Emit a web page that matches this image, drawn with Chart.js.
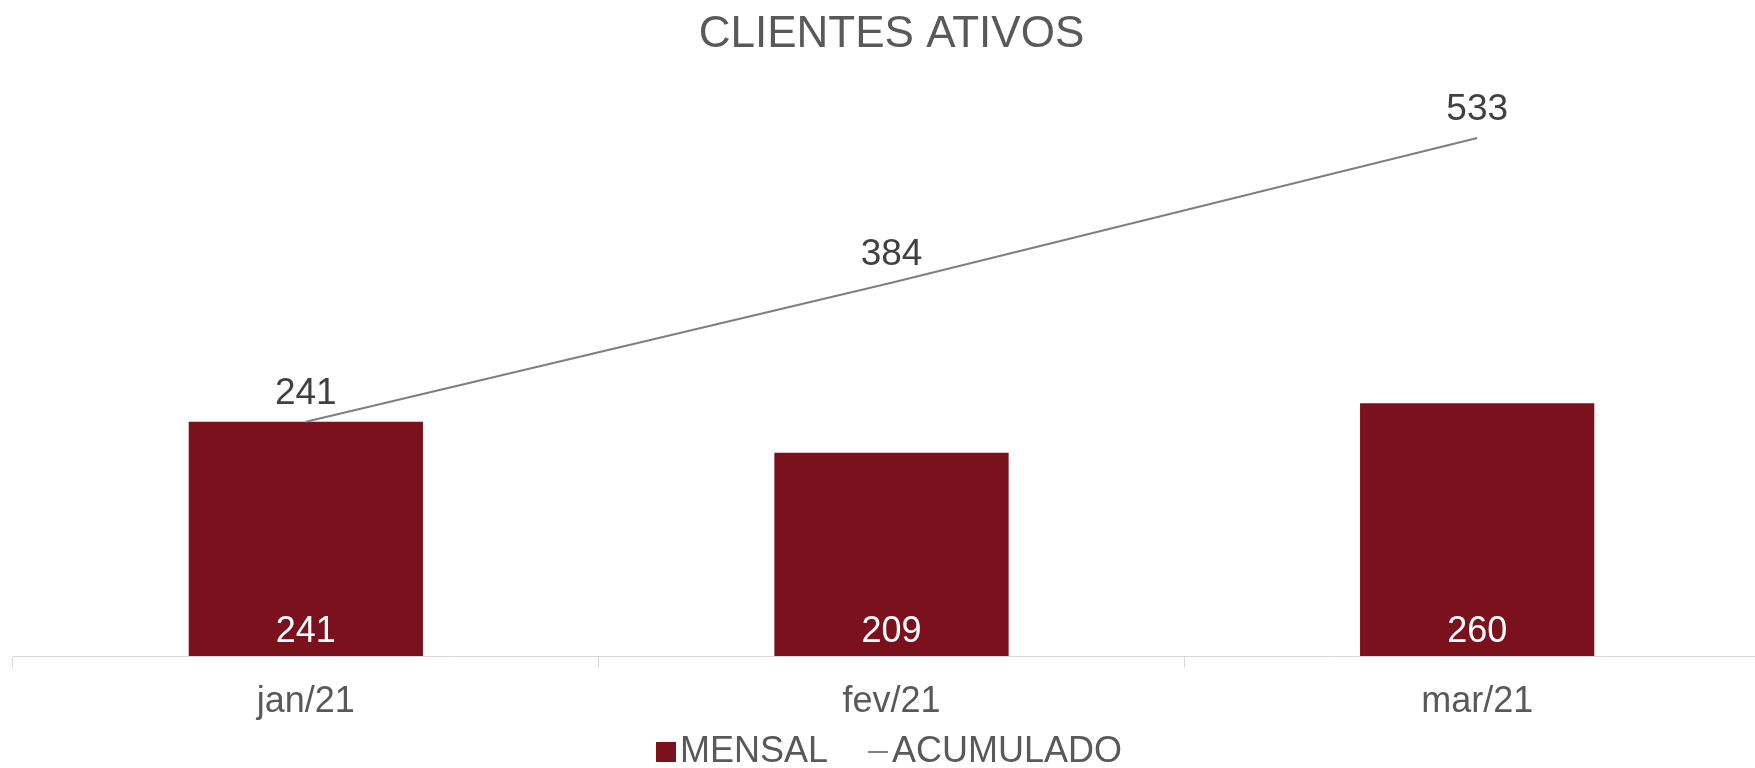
<!DOCTYPE html>
<html>
<head>
<meta charset="utf-8">
<script src="https://cdn.jsdelivr.net/npm/chart.js@4"></script>
<style>
  html, body { margin: 0; padding: 0; background: #fff; overflow: hidden; }
  /* o canvas passa um pouco da janela: a area do grafico vai ate a borda direita */
  #wrap { width: 1770px; height: 878px; }
</style>
</head>
<body>
<div id="wrap"><canvas id="grafico"></canvas></div>
<script>
// dados do grafico
const meses = ['jan/21', 'fev/21', 'mar/21'];
const mensal = [241, 209, 260];
const acumulado = [241, 384, 533];

const corBarra = '#7b111c';
const corLinha = '#7f7f7f';
const fonte = '"Liberation Sans", Arial, sans-serif';

// simbolos da legenda (quadrado e traco), encostados no texto
const simbolo = (h, cor) => {
  const c = document.createElement('canvas');
  c.width = 29;
  c.height = h;
  const g = c.getContext('2d');
  g.fillStyle = cor;
  g.fillRect(9, 0, 20, h);
  return c;
};
const simbolos = [simbolo(20, corBarra), simbolo(2, corLinha)];

// rotulos de valor (sem plugin externo)
const rotulos = {
  id: 'rotulos',
  afterDatasetsDraw(chart) {
    const ctx = chart.ctx;
    ctx.save();
    ctx.textAlign = 'center';
    ctx.textBaseline = 'middle';
    chart.data.datasets.forEach((ds, i) => {
      const meta = chart.getDatasetMeta(i);
      meta.data.forEach((el, j) => {
        if (ds.type === 'bar') {
          ctx.fillStyle = '#ffffff';
          ctx.font = '36px ' + fonte;
          ctx.fillText(ds.data[j], el.x, el.base - 24);
        } else {
          ctx.fillStyle = '#404040';
          ctx.font = '37px ' + fonte;
          ctx.fillText(ds.data[j], el.x, el.y - 28);
        }
      });
    });
    ctx.restore();
  }
};

// o padding da legenda separa os itens; sobe a legenda para perto dos meses
const subirLegenda = {
  id: 'subirLegenda',
  afterLayout(chart) {
    const lg = chart.legend;
    lg.top -= 47;
    lg.bottom -= 47;
  }
};

var canvas = document.getElementById('grafico');

var grafico = new Chart(canvas, {
  data: {
    labels: meses,
    datasets: [{
      type: 'bar',
      label: 'MENSAL',
      data: mensal,
      backgroundColor: corBarra,
      barPercentage: 0.4,
      categoryPercentage: 1,
      order: 1
    }, {
      type: 'line',
      label: 'ACUMULADO',
      data: acumulado,
      borderColor: corLinha,
      backgroundColor: corLinha,
      borderWidth: 2,
      pointRadius: 0,
      tension: 0,
      order: 0
    }]
  },
  options: {
    responsive: true,
    maintainAspectRatio: false,
    animation: false,
    layout: { padding: { left: 13, right: 0, top: 0, bottom: 51 } },
    scales: {
      x: {
        grid: { drawOnChartArea: false, color: '#d9d9d9', tickLength: 12 },
        border: { color: '#d9d9d9' },
        ticks: { color: '#595959', font: { family: fonte, size: 36 }, padding: 12.4 }
      },
      y: { display: false, min: 0, max: 600 }
    },
    plugins: {
      title: {
        display: true,
        text: 'CLIENTES ATIVOS',
        color: '#595959',
        font: { family: fonte, size: 44, weight: 'normal' },
        padding: { top: 8, bottom: 12 }
      },
      legend: {
        position: 'bottom',
        labels: {
          usePointStyle: true,
          pointStyleWidth: 1,
          boxHeight: 20,
          padding: 45,
          color: '#595959',
          font: { family: fonte, size: 36 },
          generateLabels: (chart) => {
            const itens = Chart.defaults.plugins.legend.labels.generateLabels(chart);
            itens.forEach(it => { it.pointStyle = simbolos[it.datasetIndex]; });
            return itens;
          },
          sort: (a, b) => a.datasetIndex - b.datasetIndex
        }
      },
      tooltip: { enabled: false }
    }
  },
  plugins: [rotulos, subirLegenda]
});
</script>
</body>
</html>
